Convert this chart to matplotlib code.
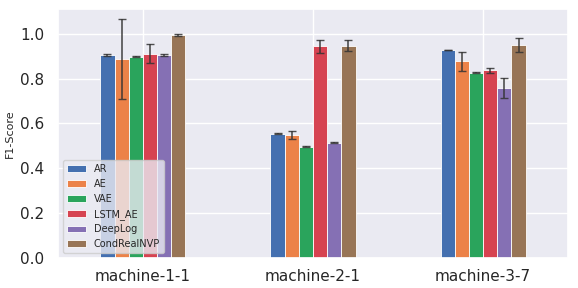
import numpy as np
import matplotlib
matplotlib.use('Agg')
import matplotlib.pyplot as plt
import seaborn as sns

machines = ['machine-1-1', 'machine-2-1', 'machine-3-7']
models = ['AR', 'AE', 'VAE', 'LSTM_AE', 'DeepLog', 'CondRealNVP']

# mean F1 per model, one entry per machine
ar = [0.906, 0.553, 0.927]
ae = [0.887, 0.549, 0.877]
vae = [0.897, 0.497, 0.826]
lstm_ae = [0.911, 0.943, 0.836]
deeplog = [0.906, 0.513, 0.757]
condrealnvp = [0.994, 0.946, 0.951]

# std of F1
ar_err = [0.005, 0.002, 0.002]
ae_err = [0.177, 0.018, 0.043]
vae_err = [0.002, 0.002, 0.002]
lstm_ae_err = [0.043, 0.030, 0.012]
deeplog_err = [0.004, 0.002, 0.045]
condrealnvp_err = [0.003, 0.025, 0.031]

sns.set_theme()

values = [ar, ae, vae, lstm_ae, deeplog, condrealnvp]
errors = [ar_err, ae_err, vae_err, lstm_ae_err, deeplog_err, condrealnvp_err]
colors = ['#4470b0', '#ec8248', '#2aa45c', '#d64351', '#8570b4', '#987556']

fig = plt.figure(figsize=(5.78, 2.88), dpi=100)
ax = fig.add_axes([0.1, 0.104, 0.883, 0.865])

x = np.arange(len(machines))
n = len(models)
width = 0.5 / n
for i, (name, vals, errs) in enumerate(zip(models, values, errors)):
    offset = (i - (n - 1) / 2) * width
    ax.bar(x + offset, vals, width, yerr=errs, label=name, color=colors[i],
           edgecolor='white', linewidth=0.6,
           error_kw=dict(ecolor='#333333', elinewidth=1.2, capsize=3, capthick=1, alpha=0.85))

ax.set_xticks(x)
ax.set_xticklabels(machines, fontsize=11)
ax.set_xlim(-0.5, 2.5)
ax.set_ylim(0, 1.11)
ax.set_yticks([0.0, 0.2, 0.4, 0.6, 0.8, 1.0])
ax.tick_params(axis='y', labelsize=11)
ax.tick_params(axis='x', pad=2)
ax.set_ylabel('F1-Score', fontsize=8)
ax.legend(loc='lower left', fontsize=7)

plt.savefig('out.png', dpi=100)
plt.close()
